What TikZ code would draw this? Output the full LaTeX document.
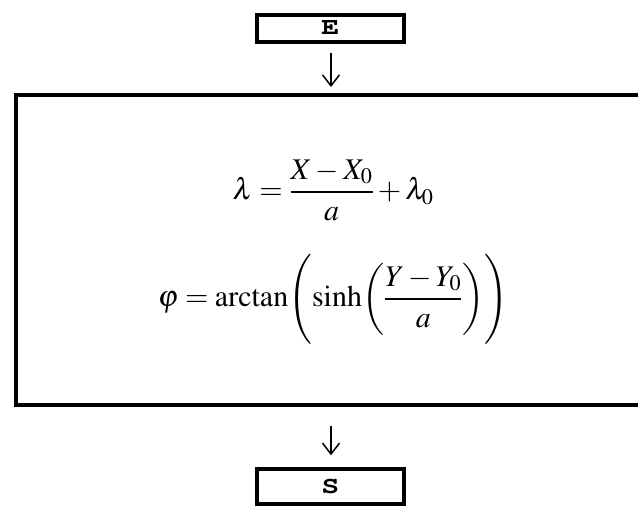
\documentclass[tikz,border=0pt]{standalone}
\usepackage{mathptmx}
\usepackage[T1,TU]{fontenc}
\usetikzlibrary{arrows.meta,positioning,calc}

\newcommand{\termtext}[1]{\scalebox{1.25}[1]{#1}}

\begin{document}
\begin{tikzpicture}[x=1pt, y=-1pt,
  termbox/.style={draw, line width=4pt, minimum width=147pt, inner sep=0pt,
    font=\fontsize{24}{28}\usefont{T1}{pcr}{b}{n}},
  formula/.style={anchor=base, inner sep=0pt, font=\fontsize{30}{36}\selectfont},
  flowarrow/.style={line width=1.5pt,
    -{Straight Barb[length=11pt,width=17pt,line width=1.5pt]}}]
\useasboundingbox (0,0) rectangle (638,506);
\node[termbox, minimum height=27pt] (entree) at (330.4,28.3) {\termtext{E}};
\node[draw, line width=4pt, minimum width=631pt, minimum height=309.5pt]
  (calcul) at (331,249.8) {};
\node[formula] (lambda) at (333,199.5)
  {$\displaystyle \lambda = \frac{X - X_0}{a} + \lambda_0$};
\node[formula] (phi) at (333,306.5)
  {$\displaystyle \varphi = \arctan\Biggl(\sinh\biggl(\frac{Y - Y_0}{a}\biggr)\Biggr)$};
\node[termbox, minimum height=35pt] (sortie) at (330.4,486.8) {\termtext{S}};
% fleches
\draw[flowarrow, shorten <=9pt, shorten >=6pt]
  (calcul.north |- entree.south) -- (calcul.north);
\draw[flowarrow, shorten <=19pt, shorten >=12pt]
  (calcul.south) -- (calcul.south |- sortie.north);
\end{tikzpicture}
\end{document}
